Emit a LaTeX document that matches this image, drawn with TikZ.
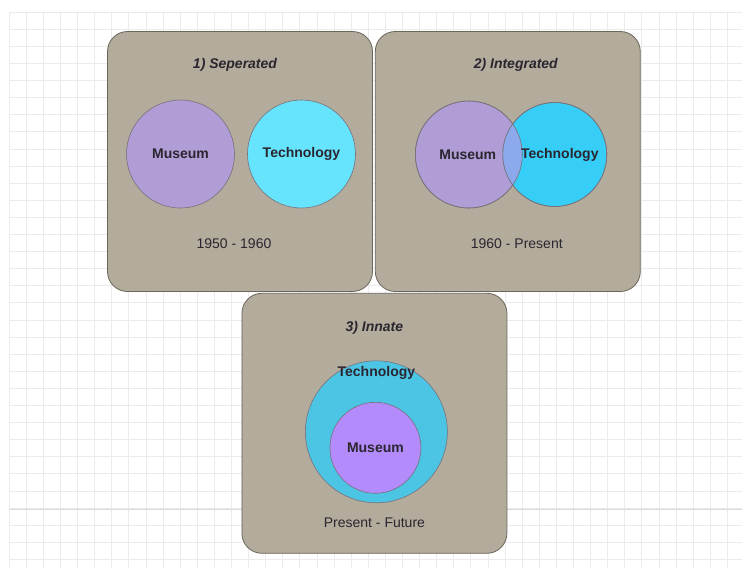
\documentclass[tikz,border=0pt]{standalone}
\usepackage{fontspec}
\setmainfont{Liberation Sans}
\usepackage{xcolor}
\usepackage{tikz}
\usetikzlibrary{positioning}
\definecolor{panel-fill}{HTML}{B3AB9B}
\definecolor{panel-edge}{HTML}{6B665C}
\definecolor{circle-edge}{HTML}{77717A}
\definecolor{museum-fill}{HTML}{B19DD6}
\definecolor{museum-bright}{HTML}{B38BFA}
\definecolor{tech-light}{HTML}{66E4FE}
\definecolor{tech-mid}{HTML}{36CDF6}
\definecolor{tech-deep}{HTML}{4CC5E5}
\definecolor{overlap-fill}{HTML}{8CA9EC}
\definecolor{label-text}{HTML}{2A2630}
\definecolor{grid-minor}{HTML}{EBEBEB}
\definecolor{grid-major}{HTML}{DADADA}
\tikzset{grid-line/.style={draw=grid-minor, line width=0.6pt}}
\tikzset{venn-panel/.style={draw=panel-edge, fill=panel-fill, line width=0.8pt, rounded corners=20pt, inner sep=0, minimum width=265pt, minimum height=260pt}}
\tikzset{venn-circle/.style={circle, draw=circle-edge, line width=0.6pt, inner sep=0}}
\tikzset{venn-edge/.style={draw=circle-edge, line width=0.6pt}}
\tikzset{venn-title/.style={font=\fontsize{14}{16}\selectfont\bfseries\itshape, text=label-text}}
\tikzset{venn-label/.style={font=\fontsize{14}{16}\selectfont\bfseries, text=label-text}}
\tikzset{venn-era/.style={font=\fontsize{14}{16}\selectfont, text=label-text}}
\begin{document}
\begin{tikzpicture}[x=1pt, y=-1pt]
            \useasboundingbox[fill=white] (0,0) rectangle (742,568);

            % background grid
            \foreach \i in {0,...,42} {
                \draw[grid-line] (9+17.1*\i,12) -- (9+17.1*\i,568);
            }
            \foreach \j in {0,...,32} {
                \draw[grid-line] (9,12+17.1*\j) -- (742,12+17.1*\j);
            }
            \draw[draw=grid-major, line width=0.8pt] (9,509) -- (742,509);

            \node[venn-panel] (panel1) at (240,161.5) {};
            \node[venn-panel, right=2pt of panel1] (panel2) {};
            \node[venn-panel, below=1pt of panel1.south east, xshift=1.5pt] (panel3) {};

            % 1) separated
            \node[venn-title] (title1) at ([xshift=-5pt, yshift=-34pt]panel1.north) {1) Seperated};
            \node[venn-circle, fill=museum-fill, minimum size=108pt, venn-label] (museum1) at ([xshift=-59.5pt, yshift=7.5pt]panel1.center) {Museum};
            \node[venn-circle, fill=tech-light, minimum size=108pt, venn-label] (tech1) at ([xshift=61.5pt, yshift=7.5pt]panel1.center) {Technology};
            \node[venn-era] (era1) at ([xshift=-6pt, yshift=48pt]panel1.south) {1950 - 1960};

            % 2) integrated
            \node[venn-title] (title2) at ([xshift=8pt, yshift=-34pt]panel2.north) {2) Integrated};
            \node[venn-circle, fill=museum-fill, minimum size=107pt] (museum2) at ([xshift=-39pt, yshift=7pt]panel2.center) {};
            \node[venn-circle, fill=tech-mid, minimum size=104pt] (tech2) at ([xshift=47pt, yshift=7pt]panel2.center) {};
            \begin{scope}
                \clip (museum2.center) circle[radius=53.5];
                \fill[overlap-fill] (tech2.center) circle[radius=52];
            \end{scope}
            \draw[venn-edge] (museum2.center) circle[radius=53.5];
            \draw[venn-edge] (tech2.center) circle[radius=52];
            \node[venn-label] (museumlabel2) at ([xshift=-1pt]museum2.center) {Museum};
            \node[venn-label] (techlabel2) at ([xshift=5pt]tech2.center) {Technology};
            \node[venn-era] (era2) at ([xshift=9pt, yshift=48pt]panel2.south) {1960 - Present};

            % 3) innate
            \node[venn-title] (title3) at ([yshift=-35pt]panel3.north) {3) Innate};
            \node[venn-circle, fill=tech-deep, minimum size=142pt] (tech3) at ([xshift=2pt, yshift=-8.5pt]panel3.center) {};
            \node[venn-circle, fill=museum-bright, minimum size=91pt, venn-label] (museum3) at ([xshift=1pt, yshift=-24.5pt]panel3.center) {Museum};
            \node[venn-label] (techlabel3) at ([yshift=-12pt]tech3.north) {Technology};
            \node[venn-era] (era3) at ([yshift=31pt]panel3.south) {Present - Future};
        \end{tikzpicture}
\end{document}
